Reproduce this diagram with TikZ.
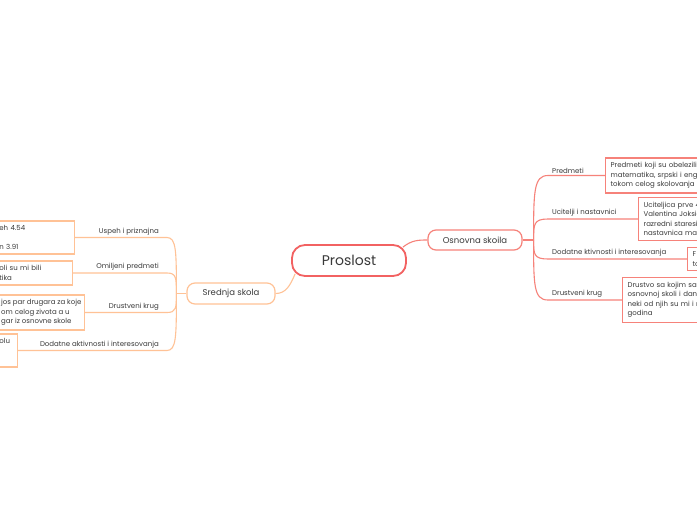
\documentclass[tikz,border=0pt]{standalone}
\usepackage{fontspec}
\setmainfont{Poppins}
\usetikzlibrary{calc}
\definecolor{rootred}{RGB}{242,98,98}
\definecolor{rightline}{RGB}{246,130,122}
\definecolor{leftline}{RGB}{255,194,150}
\definecolor{txtgray}{RGB}{58,58,58}

\begin{document}
\begin{tikzpicture}[x=1pt,y=-1pt,
  rootbox/.style={rectangle,rounded corners=13pt,draw=rootred,line width=1.8pt,fill=white,
                  minimum width=114pt,minimum height=31pt,text=txtgray,font=\fontsize{14}{16}\selectfont},
  mainR/.style={rectangle,rounded corners=8pt,draw=rightline,line width=1.2pt,fill=white,
                minimum width=94pt,minimum height=20pt,text=txtgray,font=\fontsize{8.5}{10}\selectfont},
  mainL/.style={mainR,draw=leftline,minimum width=88pt,minimum height=21pt},
  leafR/.style={rectangle,draw=rightline,line width=1.3pt,fill=white,align=left,anchor=west,
                inner xsep=5pt,inner ysep=4.5pt,text width=150pt,text=txtgray,
                font=\fontsize{7}{9.5}\selectfont},
  leafL/.style={leafR,draw=leftline,anchor=east},
  lblR/.style={inner xsep=4pt,inner ysep=2pt,anchor=south west,text=txtgray,
               font=\fontsize{7}{8}\selectfont},
  lblL/.style={lblR,inner xsep=8pt,anchor=south east},
  rline/.style={draw=rightline,line width=1.1pt},
  lline/.style={draw=leftline,line width=1.1pt}
]
\useasboundingbox (0,0) rectangle (697,520);
\fill[white] (0,0) rectangle (697,520);
\clip (0,0) rectangle (697,520);

% centre and the two main topics
\node[rootbox] (root) at (349,260.5) {Proslost};
\node[mainR] (osn) at (475,240) {Osnovna skoila};
\node[mainL] (sred) at (231,293.5) {Srednja skola};

\draw[rline] ($(root.north east)+(-4,3)$) .. controls +(9,-7) and +(-9,0) .. (osn.west);
\draw[lline] ($(root.south west)+(4,-3)$) .. controls +(-5,12) and +(10,0) .. (sred.east);

% right side: Osnovna skoila
\coordinate (hubR) at ($(osn.east)+(11,0)$);
\draw[rline] (osn.east) -- (hubR);

\node[lblR] (lbR1) at (548,175.5) {Predmeti};
\node[lblR] (lbR2) at (548,219) {Ucitelji i nastavnici};
\node[lblR] (lbR3) at (548,259) {Dodatne ktivnosti i interesovanja};
\node[lblR] (lbR4) at (548,300) {Drustveni krug};

\node[leafR] (lfR1) at (605,175.5)
    {Predmeti koji su obelezili\\matematika, srpski i engl\\tokom celog skolovanja};
\node[leafR] (lfR2) at (638,219)
    {Uciteljica prve 4\\Valentina Joksic\\razredni staresi\\nastavnica mate};
\node[leafR] (lfR3) at (687,259) {F\\to};
\node[leafR] (lfR4) at (622,300)
    {Drustvo sa kojim sa\\osnovnoj skoli i dan\\neki od njih su mi i n\\godina};

\foreach \i in {1,...,4}
  \draw[rline] (hubR) .. controls ($(hubR)!0.75!(hubR |- lbR\i.south west)$)
      and (hubR |- lbR\i.south west) .. (lbR\i.south west) -- (lfR\i.west);

% left side: Srednja skola
\coordinate (hubL) at ($(sred.west)+(-10,0)$);
\draw[lline] (sred.west) -- (hubL);

\node[lblL] (lbL1) at (167,237.5) {Uspeh i priznajna};
\node[lblL] (lbL2) at (167,273) {Omiljeni predmeti};
\node[lblL] (lbL3) at (167,312.5) {Drustveni krug};
\node[lblL] (lbL4) at (167,350.5) {Dodatne aktivnosti i interesovanja};

\node[leafL,text width=70pt] (lfL1) at (75,237.5) {eh 4.54\\\mbox{}\\n 3.91};
\node[leafL,text width=68pt] (lfL2) at (73,273) {oli su mi bili\\tika};
\node[leafL,text width=,inner xsep=3pt] (lfL3) at (85,312.5)
    {jos par drugara za koje\\om celog zivota a u\\gar iz osnovne skole};
\node[leafL,text width=13pt] (lfL4) at (18,350.5) {olu\\\mbox{}\\\mbox{}};

\foreach \i in {1,...,4}
  \draw[lline] (hubL) .. controls ($(hubL)!0.75!(hubL |- lbL\i.south east)$)
      and (hubL |- lbL\i.south east) .. (lbL\i.south east) -- (lfL\i.east);

\end{tikzpicture}
\end{document}
